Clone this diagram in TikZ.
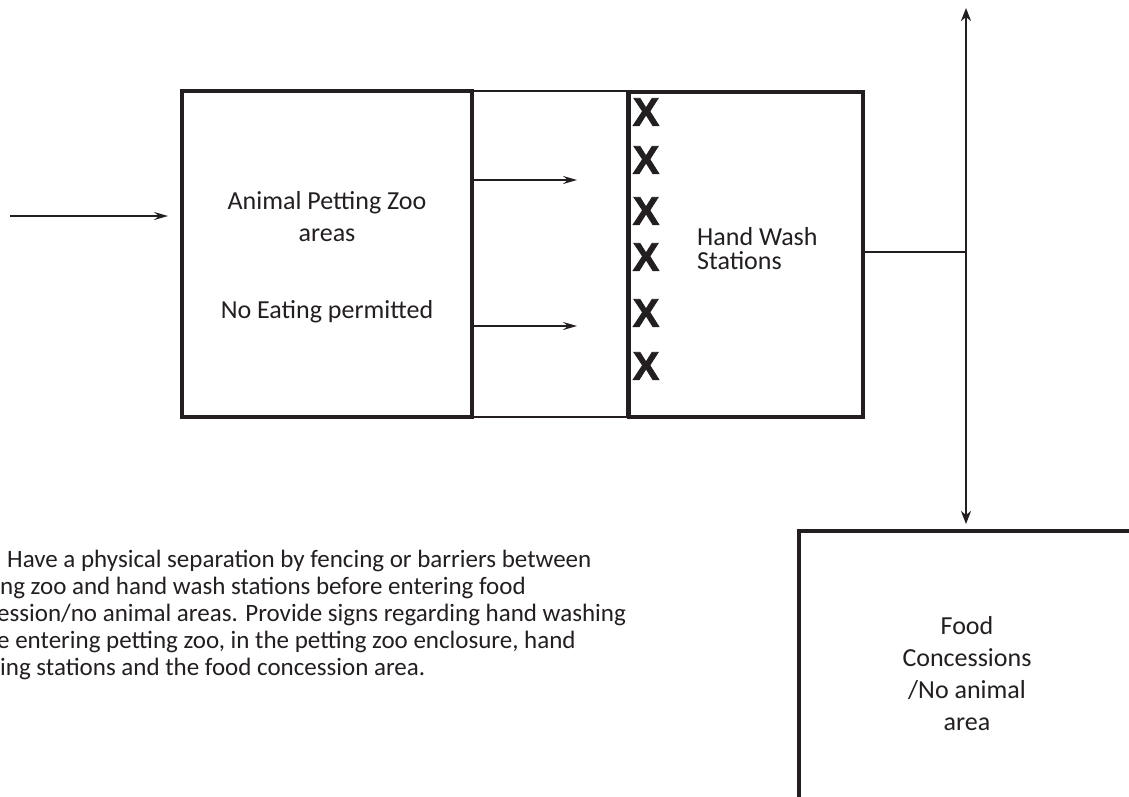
\documentclass[tikz,border=0pt]{standalone}
\usepackage{fontspec}
\setmainfont{Carlito}
\newfontfamily\xfont{Liberation Sans}[BoldFeatures={FakeBold=2}]
\usetikzlibrary{arrows.meta,calc}
\definecolor{ink}{HTML}{231F20}
\begin{document}
\begin{tikzpicture}[x=1pt,y=-1pt,
  box/.style={draw=ink, line width=4pt, inner sep=0pt},
  thinbox/.style={draw=ink, line width=1.8pt, inner sep=0pt},
  lbl/.style={text=ink, font=\fontsize{26}{32}\selectfont, align=center, inner sep=0pt, anchor=base},
  xmark/.style={text=ink, font=\xfont\bfseries\fontsize{40}{40}\selectfont, inner sep=0pt},
  note/.style={text=ink, font=\fontsize{25}{27}\selectfont, anchor=base west, inner sep=0pt},
  arr/.style={draw=ink, line width=2pt, -{Stealth[length=14pt,width=8pt,inset=5pt]}},
  link/.style={draw=ink, line width=2.6pt},
  darr/.style={draw=ink, line width=2.6pt, {Stealth[length=13pt,width=10pt,inset=4pt]}-{Stealth[length=13pt,width=10pt,inset=4pt]}}]
\useasboundingbox (0,0) rectangle (1129,796);
\clip (0,0) rectangle (1129,796);
\fill[white] (0,0) rectangle (1129,796);
% boxes
\node[thinbox, minimum width=155pt, minimum height=326pt] (mid) at (549.5,254) {};
\node[box, minimum width=290pt, minimum height=326pt] (pz) at (327,254) {};
\node[box, minimum width=234pt, minimum height=325pt] (hw) at (746,254.5) {};
\node[box, minimum width=600pt, minimum height=500pt, anchor=north west] (food) at (797,529) {};
% labels (anchor base = baseline of the last line)
\node[lbl] (pzt) at (327,241) {Animal Petting Zoo\\areas};
\node[lbl] (pzn) at (327,318) {No Eating permitted};
\node[lbl, font=\fontsize{26}{24}\selectfont, align=left, anchor=base west] (hwt) at (697,269) {Hand Wash\\Stations};
\node[lbl, font=\fontsize{26}{31.7}\selectfont] (ft) at (967,730) {Food\\Concessions\\/No animal\\area};
% X marks
\node[xmark] (x1) at (646,112) {X};
\node[xmark] (x2) at (646,160) {X};
\node[xmark] (x3) at (646,211) {X};
\node[xmark] (x4) at (646,257) {X};
\node[xmark] (x5) at (646,313) {X};
\node[xmark] (x6) at (646,366) {X};
% arrows
\coordinate (in) at (10,216);
\draw[arr] (in) -- ($(in -| pz.west)+(-12,0)$);
\coordinate (a1) at (577,180);
\coordinate (a2) at (577,326);
\draw[arr] (pz.east |- a1) -- (a1);
\draw[arr] (pz.east |- a2) -- (a2);
\coordinate (j) at (966,252);
\coordinate (top) at (966,8);
\draw[link] (hw.east |- j) -- (j);
\draw[darr] (top) -- ($(food.north west -| j)+(0,-5)$);
% note (cut off at the left edge, as in the reference)
\node[note] (n1) at (7,567) {Have a physical separation by fencing or barriers between};
\node[note] (n2) at (0,594) {ng zoo and hand wash stations before entering food};
\node[note] (n3) at (-3,621) {ession/no animal areas. Provide signs regarding hand washing};
\node[note] (n4) at (-3,648) {e entering petting zoo, in the petting zoo enclosure, hand};
\node[note] (n5) at (0,675) {ing stations and the food concession area.};
\end{tikzpicture}
\end{document}
